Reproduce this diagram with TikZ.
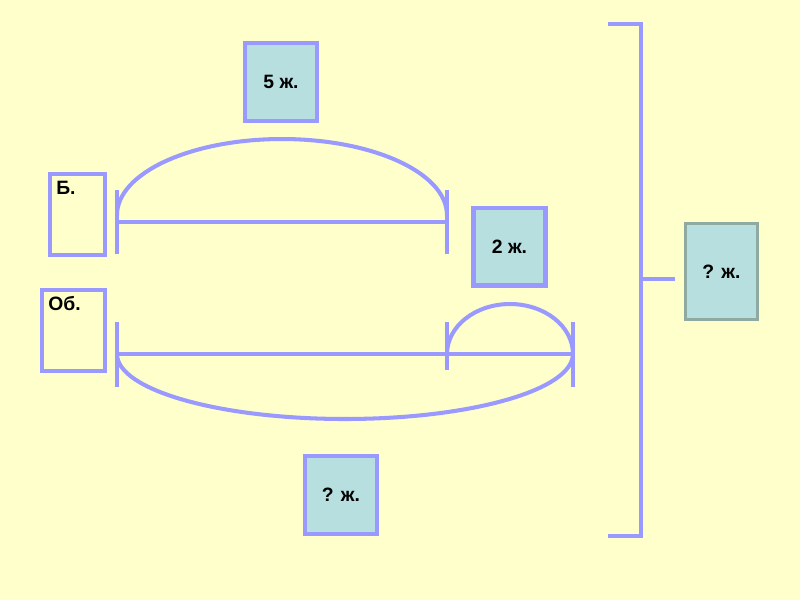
\documentclass[tikz,border=0pt]{standalone}
\usepackage{fontspec}
\setmainfont{Liberation Sans}
\usepackage{tikz}
\usepackage{xcolor}
\usetikzlibrary{positioning}

\definecolor{paper}{HTML}{FFFFCC}
\definecolor{lilac}{HTML}{9999FF}
\definecolor{cell}{HTML}{B8DFE0}
\definecolor{sage}{HTML}{8FAAA0}

\tikzset{
    seg/.style={draw=lilac, line width=2.3pt},
    valbox/.style={draw=lilac, line width=2.3pt, fill=cell, minimum width=1.44cm, minimum height=1.56cm, inner sep=0pt, font=\fontsize{11}{13}\selectfont\bfseries},
    namebox/.style={draw=lilac, line width=2.3pt, inner sep=0pt, minimum height=1.62cm},
    tag/.style={anchor=north west, inner sep=0pt, font=\fontsize{11}{13}\selectfont\bfseries}
}

\begin{document}
\begin{tikzpicture}[x=0.02cm, y=-0.02cm]
    % Background
    \fill[paper] (0,0) rectangle (800,600);
    \useasboundingbox (0,0) rectangle (800,600);

    % Name boxes
    \node[namebox, minimum width=1.1cm] (b) at (77.5,214.5) {};
    \node[namebox, minimum width=1.26cm] (ob) at (73.5,330.5) {};
    \node[tag] (blab) at (56,181) {Б.};
    \node[tag] (oblab) at (48,296) {Об.};

    % Value boxes
    \node[valbox] (five) at (281,82) {5 ж.};
    \node[valbox] (two) at (509.5,246.5) {2 ж.};
    \node[valbox] (sumob) at (341,495) {? ж.};
    \node[valbox, draw=sage, line width=1.8pt, minimum height=1.92cm] (total) at (721.5,271.5) {? ж.};

    % First segment (Б.)
    \draw[seg] (117,222) -- (447,222);
    \foreach \x in {117,447}
        \draw[seg] (\x,190) -- (\x,254);
    \draw[seg] (117,215) arc[start angle=180, end angle=0, x radius=3.3cm, y radius=1.52cm];

    % Second segment (Об.)
    \draw[seg] (117,354) -- (573,354);
    \foreach \x in {117,573}
        \draw[seg] (\x,322) -- (\x,387);
    \draw[seg] (447,322) -- (447,370);
    \draw[seg] (447,354) arc[start angle=180, end angle=0, x radius=1.26cm, y radius=1cm];
    \draw[seg] (117,354) arc[start angle=180, end angle=360, x radius=4.56cm, y radius=1.3cm];

    % Bracket joining both rows
    \coordinate (brtop) at (608,24);
    \coordinate (brbot) at (608,536);
    \coordinate (brmid) at (641,279);
    \draw[seg] (brtop) -- (641,24) -- (641,536) -- (brbot);
    \draw[seg] (brmid) -- ([xshift=-0.18cm]total.west |- brmid);
\end{tikzpicture}
\end{document}
